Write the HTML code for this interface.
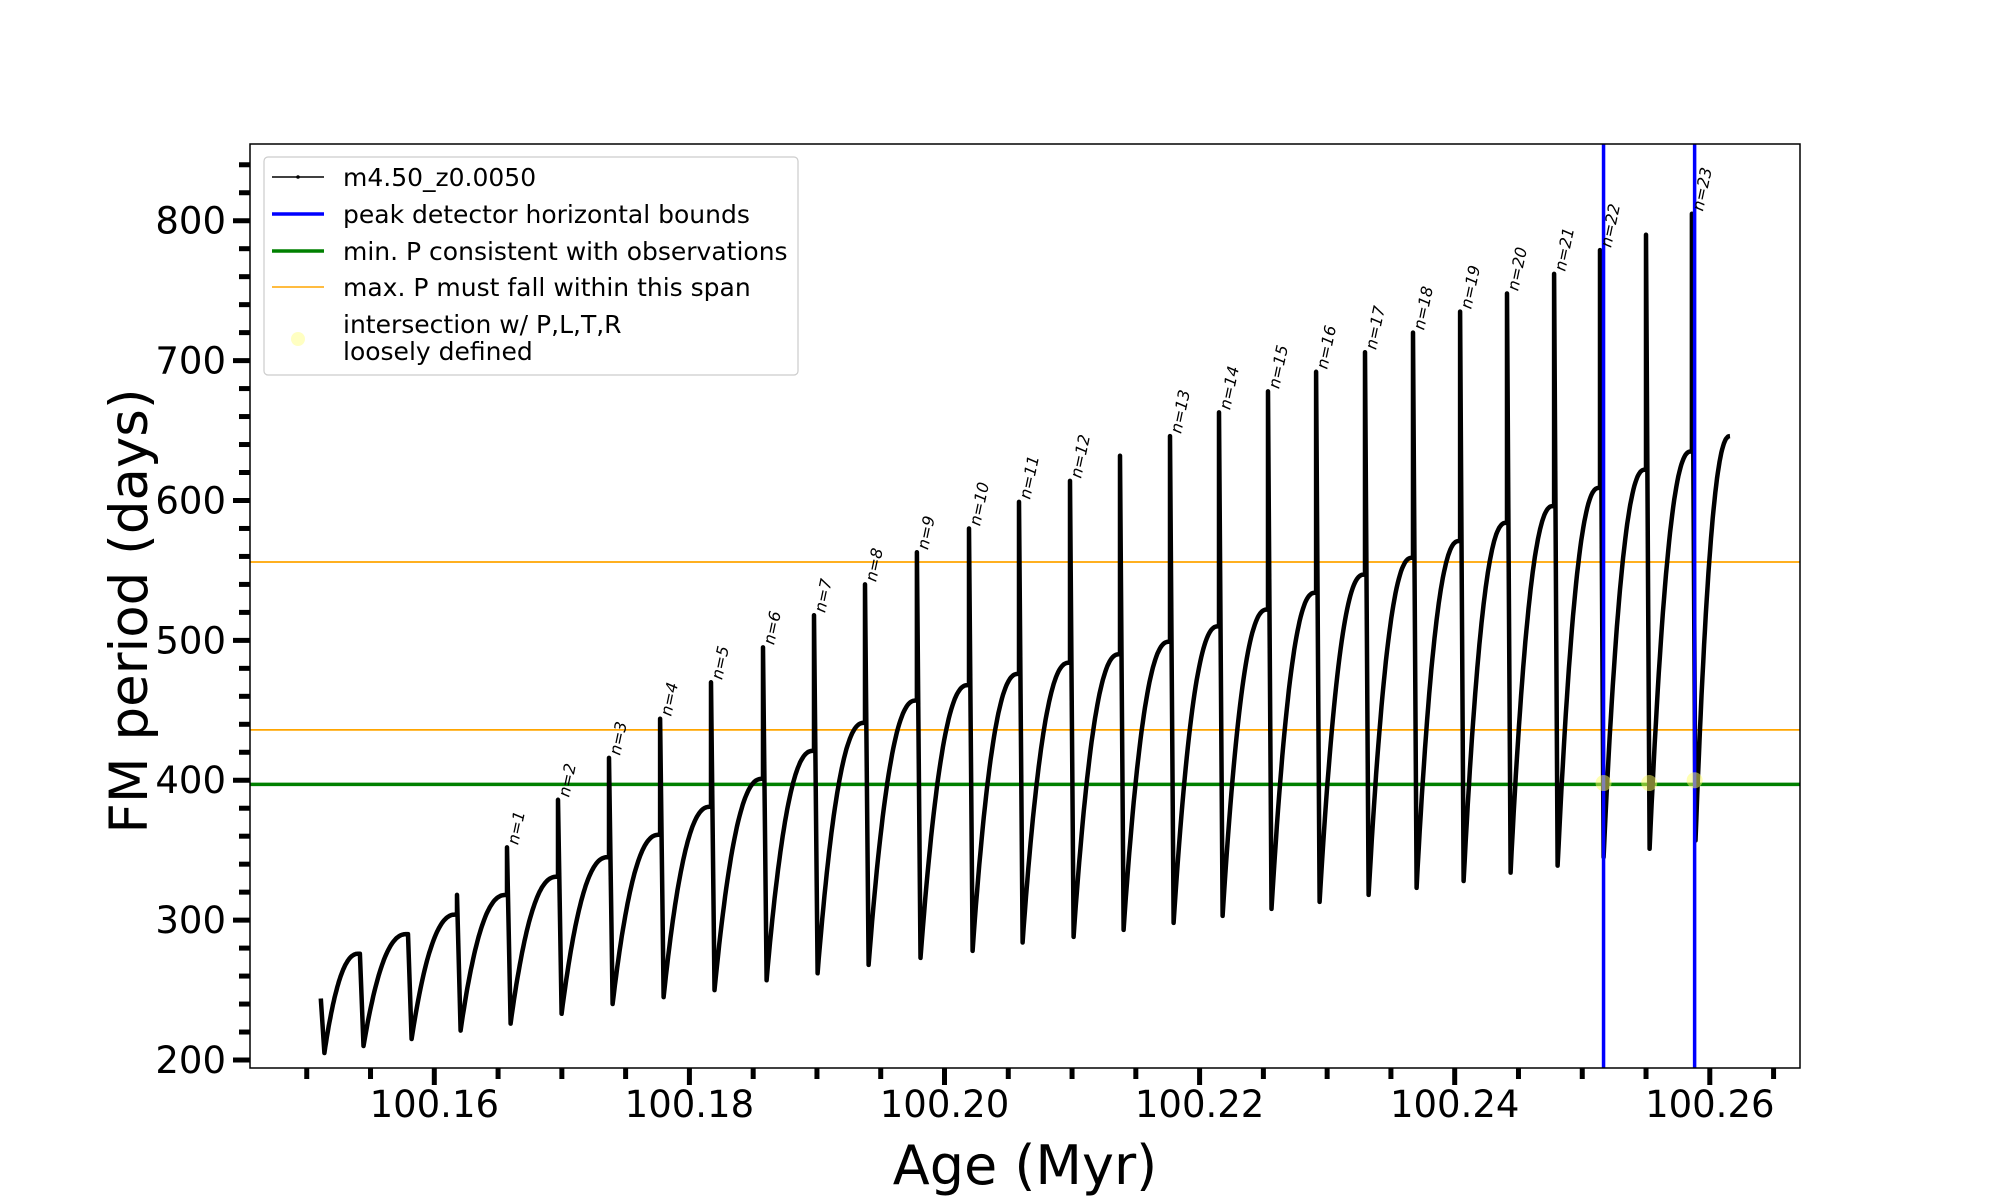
<!DOCTYPE html>
<html><head><meta charset="utf-8"><style>
html,body{margin:0;padding:0;background:#fff;}
svg{display:block;font-family:"DejaVu Sans","Liberation Sans",sans-serif;}
</style></head>
<body>
<svg id="chart" width="2000" height="1200" viewBox="0 0 2000 1200">
<rect x="0" y="0" width="2000" height="1200" fill="#fff"/>
<g id="grid-lines"></g>
<g id="series"></g>
<g id="overlay"></g>
<g id="labels"></g>
<g id="axes"></g>
<g id="legend">
  <rect x="264" y="157" width="534" height="218" fill="#fff" fill-opacity="0.8" stroke="#ccc" stroke-width="1.2" rx="4"/>
  <g>
    <line x1="272" y1="177" x2="324" y2="177" stroke="#000" stroke-width="1.5"/><circle cx="298" cy="177" r="1.8" fill="#000"/>
    <text x="343" y="186" font-size="25" fill="#000">m4.50_z0.0050</text></g>
  <g>
    <line x1="272" y1="214" x2="324" y2="214" stroke="#0000ff" stroke-width="3.5"/>
    <text x="343" y="223" font-size="25" fill="#000">peak detector horizontal bounds</text></g>
  <g>
    <line x1="272" y1="251" x2="324" y2="251" stroke="#008000" stroke-width="3.5"/>
    <text x="343" y="260" font-size="25" fill="#000">min. P consistent with observations</text></g>
  <g>
    <line x1="272" y1="287" x2="324" y2="287" stroke="#ffa500" stroke-width="1.5"/>
    <text x="343" y="296" font-size="25" fill="#000">max. P must fall within this span</text></g>
  <g>
    <circle cx="298" cy="339" r="7" fill="#ffff99" fill-opacity="0.6"/>
    <text x="343" y="333" font-size="25" fill="#000">intersection w/ P,L,T,R</text>
    <text x="343" y="360" font-size="25" fill="#000">loosely defined</text></g>
</g>
<text x="1025" y="1184" font-size="54" text-anchor="middle" fill="#000">Age (Myr)</text>
<text transform="translate(147,611) rotate(-90)" font-size="53" text-anchor="middle" fill="#000">FM period (days)</text>
</svg>
<script>
const cycleStart = [100.15110,100.15417,100.15794,100.16178,100.16570,100.16970,100.17370,100.17770,100.18169,100.18577,100.18977,100.19377,100.19784,100.20192,100.20584,100.20984,100.21376,100.21768,100.22152,100.22536,100.22913,100.23297,100.23673,100.24042,100.24410,100.24779,100.25139,100.25500,100.25860];
const cycleEnd = 100.26158;
const spikeP = [244,276,290,318,352,386,416,444,470,495,518,540,563,580,599,614,632,646,663,678,692,706,720,735,748,762,779,790,805];
const minP = [205,210,215,221,226,233,240,245,250,257,262,268,273,278,284,288,293,298,303,308,313,318,323,328,334,339,345,351,357];
const plateauP = [276,290,304,318,331,345,361,381,401,421,441,457,468,476,484,490,499,510,522,534,547,559,571,584,596,609,622,635,646];
const modeLabels = ["","","","","n=1","n=2","n=3","n=4","n=5","n=6","n=7","n=8","n=9","n=10","n=11","n=12","","n=13","n=14","n=15","n=16","n=17","n=18","n=19","n=20","n=21","n=22","","n=23"];
const boundAges = [100.25167,100.25881];
const minPeriod = [397];
const maxSpan = [556,436];
const intersectAges = [100.25167,100.25525,100.25881];
const intersectP = [398,398,400];
const xTicks = [100.16,100.18,100.20,100.22,100.24,100.26];
const xTickLabels = ["100.16","100.18","100.20","100.22","100.24","100.26"];
const yTicks = [200,300,400,500,600,700,800];
const yTickLabels = ["200","300","400","500","600","700","800"];

const NS="http://www.w3.org/2000/svg";
const L=250,R=1800,T=144,B=1068;
function X(a){return 434.3+(a-100.16)*12755;}
function Y(v){return 1060-(v-200)*1.3988;}
function mk(tag,attrs,parent){const e=document.createElementNS(NS,tag);for(const k in attrs)e.setAttribute(k,attrs[k]);parent.appendChild(e);return e;}

const gl=document.getElementById('grid-lines');
maxSpan.forEach(v=>{const l=mk('line',{x1:L,x2:R,y1:Y(v),y2:Y(v),stroke:'#ffa500','stroke-width':1.8},gl);

});
minPeriod.forEach(v=>{const l=mk('line',{x1:L,x2:R,y1:Y(v),y2:Y(v),stroke:'#008000','stroke-width':3.5},gl);

});

const sg=document.getElementById('series');
let d='';
for(let i=0;i<cycleStart.length;i++){
  const t0=cycleStart[i];
  const t1=(i+1<cycleStart.length)?cycleStart[i+1]:cycleEnd;
  const tm=t0+0.00028;
  if(i===0){d+='M'+X(t0).toFixed(1)+' '+Y(spikeP[i]).toFixed(1);}
  else{d+=' L'+X(t0).toFixed(1)+' '+Y(spikeP[i]).toFixed(1);}
  d+=' L'+X(tm).toFixed(1)+' '+Y(minP[i]).toFixed(1);
  const te=(i+1<cycleStart.length)?t1-0.0001:t1;
  const N=40;
  for(let k=1;k<=N;k++){const s=k/N;const t=tm+(te-tm)*s;const v=minP[i]+(plateauP[i]-minP[i])*(1-Math.pow(1-s,2.3));
    d+=' L'+X(t).toFixed(1)+' '+Y(v).toFixed(1);}
  if(i+1<cycleStart.length){d+=' L'+X(t1).toFixed(1)+' '+Y(plateauP[i]).toFixed(1);}
}
const path=mk('path',{d:d,fill:'none',stroke:'#000','stroke-width':4.5,'stroke-linejoin':'round'},sg);



const lg=document.getElementById('labels');
for(let i=0;i<cycleStart.length;i++){
  if(!modeLabels[i])continue;
  const x=X(cycleStart[i])+11, y=Y(spikeP[i])-2;
  const t=mk('text',{x:0,y:0,'font-size':16,'font-style':'italic',fill:'#000',transform:'translate('+x.toFixed(1)+','+y.toFixed(1)+') rotate(-78)'},lg);
  t.textContent=modeLabels[i];
  
  
}
const ov=document.getElementById('overlay');
boundAges.forEach(a=>{const l=mk('line',{x1:X(a),x2:X(a),y1:T,y2:B,stroke:'#0000ff','stroke-width':3.5},ov);

});
for(let i=0;i<intersectAges.length;i++){
  const c=mk('circle',{cx:X(intersectAges[i]),cy:Y(intersectP[i]),r:8,fill:'#ffff66','fill-opacity':0.5},ov);
  
  
}

const ax=document.getElementById('axes');
const frame=mk('rect',{x:L,y:T,width:R-L,height:B-T,fill:'none',stroke:'#000','stroke-width':1.5},ax);


for(let v=200;v<=850;v+=20){const y=Y(v);const major=(v%100===0);
  mk('line',{x1:L-(major?17:11),x2:L,y1:y,y2:y,stroke:'#000','stroke-width':5},ax);}
yTicks.forEach((v,i)=>{const t=mk('text',{x:L-24,y:Y(v)+13,'font-size':37,'text-anchor':'end',fill:'#000'},ax);
  t.textContent=yTickLabels[i];
  
  });
for(let k=0;k<=23;k++){const a=100.15+k*0.005;const x=X(a);if(x<L||x>R)continue;
  const major=Math.abs(((a-100.16)/0.02)-Math.round((a-100.16)/0.02))<1e-6;
  mk('line',{x1:x,x2:x,y1:B,y2:B+(major?17:11),stroke:'#000','stroke-width':5},ax);}
xTicks.forEach((a,i)=>{const t=mk('text',{x:X(a),y:1117,'font-size':37,'text-anchor':'middle',fill:'#000'},ax);
  t.textContent=xTickLabels[i];
  
  });
</script>
</body></html>
